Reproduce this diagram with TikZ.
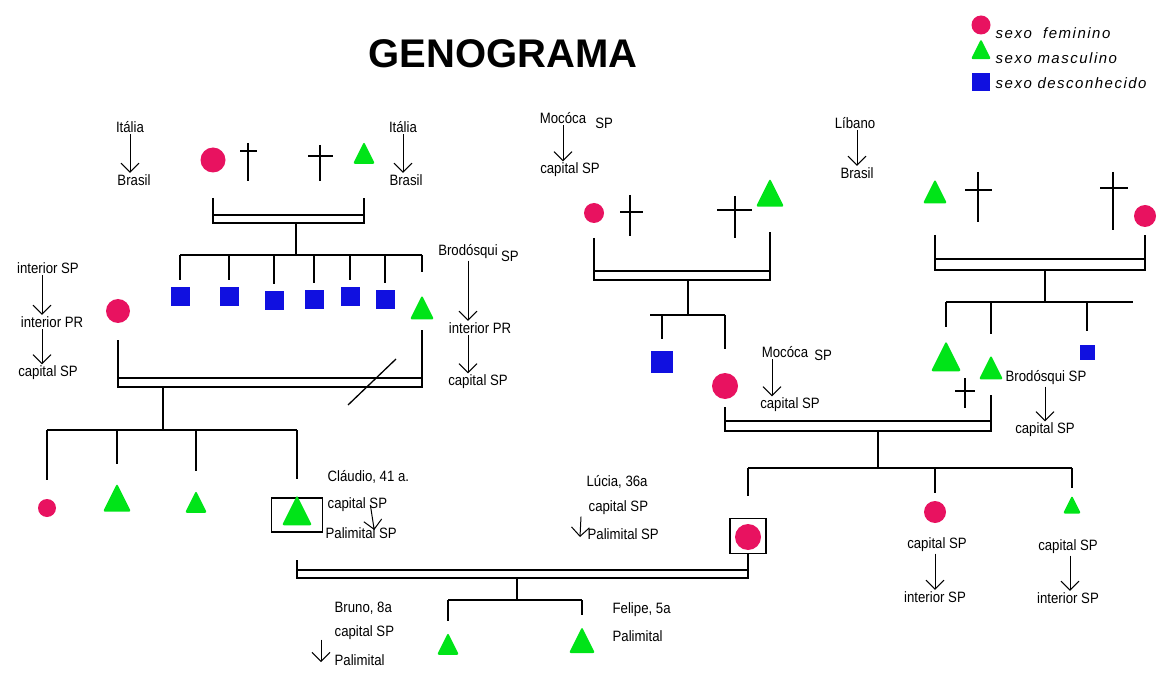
\documentclass[tikz,border=0pt]{standalone}
\usepackage{fontspec}
\setmainfont{Liberation Sans}
\usetikzlibrary{shapes.geometric,arrows.meta}
\definecolor{rosa}{RGB}{232,18,96}
\definecolor{verde}{RGB}{0,228,24}
\definecolor{azul}{RGB}{16,16,224}
\tikzset{
  fem/.style={circle,fill=rosa,inner sep=0pt,minimum size=#1},
  fem/.default=22pt,
  masc/.style={isosceles triangle,isosceles triangle stretches,shape border rotate=90,
    fill=verde,rounded corners=2pt,inner sep=0pt,minimum width=#1,minimum height=#1},
  masc/.default=22pt,
  desc/.style={rectangle,fill=azul,inner sep=0pt,minimum size=#1},
  desc/.default=19pt,
  lbl/.style={font=\fontsize{15}{17}\selectfont\addfontfeature{FakeStretch=0.88},inner sep=1pt},
  leg/.style={font=\fontsize{15}{17}\selectfont\itshape\addfontfeature{LetterSpace=10},inner sep=0pt,anchor=west},
  migra/.style={-{Straight Barb[length=9pt,width=18pt]},line width=1pt},
  caixa/.style={draw,inner sep=0pt}
}
\begin{document}
\begin{tikzpicture}[x=1pt,y=-1pt,line width=1.3pt]
\useasboundingbox (0,0) rectangle (1161,692);

\node[font=\fontsize{40}{40}\selectfont\bfseries] (titulo) at (503,54) {GENOGRAMA};

% legenda
\node[fem=19pt] (lfem) at (981,25) {};
\node[masc=20pt] (lmasc) at (981,53) {};
\node[desc=18pt] (ldesc) at (981,82) {};
\node[leg] (tfem) at (995,33) {sexo \ feminino};
\node[leg] (tmasc) at (995,58) {sexo masculino};
\node[leg] (tdesc) at (995,83) {sexo desconhecido};

% bisavos italianos
\node[lbl] (itaA) at (130,127) {Itália};
\node[lbl] (braA) at (134,180) {Brasil};
\draw[migra] (itaA.south) -- (itaA.south |- braA.north);
\node[fem=25pt] (bisavA) at (213,160) {};
\draw (248,143) -- (248,181) (240,151) -- (257,151);
\draw (320,145) -- (320,181) (308,156) -- (333,156);
\node[masc=22pt] (bisavB) at (364,157) {};
\node[lbl] (itaB) at (403,127) {Itália};
\node[lbl] (braB) at (406,180) {Brasil};
\draw[migra] (itaB.south) -- (itaB.south |- braB.north);
\draw (bisavA |- 0,198) -- (bisavA |- 0,223) -- (bisavB |- 0,223) -- (bisavB |- 0,198);
\draw (bisavA |- 0,215) -- (bisavB |- 0,215);
\draw (296,223) -- (296,255);

\node[desc] (filA1) at (180,297) {};
\node[desc] (filA2) at (229,297) {};
\node[desc] (filA3) at (274,301) {};
\node[desc] (filA4) at (314,300) {};
\node[desc] (filA5) at (350,297) {};
\node[desc] (filA6) at (385,300) {};
\node[masc=24pt] (filA7) at (422,312) {};
\draw (filA1 |- 0,255) -- (filA7 |- 0,255);
\foreach \f in {filA1,filA2,filA3,filA4,filA5,filA6}
  \draw (\f |- 0,255) -- ([yshift=7pt]\f.north);
\draw (filA7 |- 0,255) -- ([yshift=22pt]filA7.north);

% avos paternos
\node[lbl] (ispA) at (48,268) {interior SP};
\node[lbl] (iprA) at (52,322) {interior PR};
\node[lbl] (cspA) at (48,373) {capital SP};
\draw[migra] ([xshift=-6pt]ispA.south) -- ([xshift=-6pt]ispA.south |- iprA.north);
\draw[migra] ([xshift=-10pt]iprA.south) -- ([xshift=-10pt]iprA.south |- cspA.north);
\node[fem=24pt] (maeC) at (118,311) {};
\node[lbl] (brodA) at (468,252) {Brodósqui};
\node[lbl,anchor=west] (spA) at ([yshift=-4pt]brodA.east) {SP};
\node[lbl] (iprB) at (480,328) {interior PR};
\node[lbl] (cspB) at (478,382) {capital SP};
\draw[migra] (brodA.south) -- (brodA.south |- iprB.north);
\draw[migra] ([xshift=-12pt]iprB.south) -- ([xshift=-12pt]iprB.south |- cspB.north);
\draw (maeC |- 0,340) -- (maeC |- 0,387) -- (filA7 |- 0,387) -- (filA7 |- 0,330);
\draw (maeC |- 0,378) -- (filA7 |- 0,378);
\draw (348,405) -- (396,359);
\draw (163,387) -- (163,430);

\node[fem=18pt] (filC1) at (47,508) {};
\node[masc=28pt] (filC2) at (117,503) {};
\node[masc=22pt] (filC3) at (196,506) {};
\node[caixa,minimum width=51pt,minimum height=34pt] (claudio) at (297,515) {};
\node[masc=30pt] (claudioS) at (297,516) {};
\draw (filC1 |- 0,430) -- (claudio |- 0,430);
\foreach \f in {filC1,filC2,filC3,claudio}
  \draw (\f |- 0,430) -- ([yshift=18pt]\f.north);
\node[lbl,anchor=west] (cnome) at (326,477) {Cláudio, 41 a.};
\node[lbl,anchor=west] (ccap) at (326,505) {capital SP};
\node[lbl,anchor=west] (cpal) at (324,533) {Palimital SP};
\draw[migra] ([xshift=13pt]ccap.center) -- ([xshift=13pt,yshift=3pt]cpal.center);

% bisavos maternos (Mococa)
\node[lbl] (mocA) at (563,118) {Mocóca};
\node[lbl,anchor=west] (spB) at ([xshift=6pt,yshift=-5pt]mocA.east) {SP};
\node[lbl] (capA) at (570,170) {capital SP};
\draw[migra] (mocA.south) -- (mocA.south |- capA.north);
\node[fem=20pt] (bisavC) at (594,213) {};
\draw (630,195) -- (630,236) (620,212) -- (643,212);
\draw (735,196) -- (735,238) (717,210) -- (752,210);
\node[masc=28pt] (bisavD) at (770,198) {};
\draw (bisavC |- 0,238) -- (bisavC |- 0,280) -- (bisavD |- 0,280) -- (bisavD |- 0,232);
\draw (bisavC |- 0,271) -- (bisavD |- 0,271);
\draw (688,280) -- (688,315);
\node[desc=22pt] (tioL) at (662,362) {};
\node[fem=26pt] (maeL) at (725,386) {};
\coordinate (iniD) at (650,315);
\draw (iniD) -- (maeL |- 0,315);
\draw (tioL |- 0,315) -- ([yshift=11pt]tioL.north);
\draw (maeL |- 0,315) -- ([yshift=23pt]maeL.north);
\node[lbl] (mocB) at (785,352) {Mocóca};
\node[lbl,anchor=west] (spC) at ([xshift=3pt,yshift=-3pt]mocB.east) {SP};
\node[lbl] (capB) at (790,405) {capital SP};
\draw[migra] ([xshift=-13pt]mocB.south) -- ([xshift=-13pt]mocB.south |- capB.north);

% bisavos libaneses
\node[lbl] (libano) at (855,123) {Líbano};
\node[lbl] (braC) at (857,173) {Brasil};
\draw[migra] ([xshift=2pt]libano.south) -- ([xshift=2pt]libano.south |- braC.north);
\node[masc=24pt] (bisavE) at (935,196) {};
\draw (978,172) -- (978,222) (965,190) -- (992,190);
\draw (1113,172) -- (1113,230) (1100,188) -- (1128,188);
\node[fem=22pt] (bisavF) at (1145,216) {};
\draw (bisavE |- 0,235) -- (bisavE |- 0,270) -- (bisavF |- 0,270) -- (bisavF |- 0,235);
\draw (bisavE |- 0,259) -- (bisavF |- 0,259);
\draw (1045,270) -- (1045,302);
\node[masc=30pt] (irmE1) at (946,362) {};
\node[masc=24pt] (paiL) at (991,372) {};
\node[desc=15pt] (irmE3) at (1087,352) {};
\coordinate (fimE) at (1133,302);
\draw (irmE1 |- 0,302) -- (fimE);
\draw (irmE1 |- 0,302) -- ([yshift=13pt]irmE1.north);
\draw (paiL |- 0,302) -- ([yshift=20pt]paiL.north);
\draw (irmE3 |- 0,302) -- ([yshift=13pt]irmE3.north);
\draw (965,378) -- (965,408) (955,391) -- (975,391);
\node[lbl,anchor=west] (brodB) at (1004,378) {Brodósqui SP};
\node[lbl] (capC) at (1045,430) {capital SP};
\draw[migra] (capC.north |- brodB.south) -- (capC.north);

% avos maternos
\draw (maeL |- 0,407) -- (maeL |- 0,431) -- (paiL |- 0,431) -- (paiL |- 0,395);
\draw (maeL |- 0,421) -- (paiL |- 0,421);
\draw (878,431) -- (878,468);
\node[caixa,minimum width=36pt,minimum height=35pt] (lucia) at (748,536) {};
\node[fem=26pt] (luciaS) at (748,537) {};
\node[fem=22pt] (irmL1) at (935,512) {};
\node[masc=18pt] (irmL2) at (1072,508) {};
\draw (lucia |- 0,468) -- (irmL2 |- 0,468);
\draw (lucia |- 0,468) -- ([yshift=22pt]lucia.north);
\draw (irmL1 |- 0,468) -- ([yshift=7pt]irmL1.north);
\draw (irmL2 |- 0,468) -- ([yshift=6pt]irmL2.north);
\node[lbl] (cap1) at (937,545) {capital SP};
\node[lbl] (int1) at (935,597) {interior SP};
\draw[migra] ([xshift=-2pt]cap1.south) -- ([xshift=-2pt]cap1.south |- int1.north);
\node[lbl] (cap2) at (1068,547) {capital SP};
\node[lbl] (int2) at (1068,598) {interior SP};
\draw[migra] ([xshift=2pt]cap2.south) -- ([xshift=2pt]cap2.south |- int2.north);
\node[lbl,anchor=west] (lnome) at (585,482) {Lúcia, 36a};
\node[lbl,anchor=west] (lcap) at (587,508) {capital SP};
\node[lbl,anchor=west] (lpal) at (586,534) {Palimital SP};
\draw[migra] ([xshift=-6pt]lcap.south west) -- ([xshift=-6pt,yshift=-3pt]lpal.west);

% casal e filhos
\draw (claudio |- 0,560) -- (claudio |- 0,578) -- (lucia |- 0,578) -- (lucia.south);
\draw (claudio |- 0,570) -- (lucia |- 0,570);
\draw (517,578) -- (517,600);
\node[masc=22pt] (bruno) at (448,648) {};
\node[masc=26pt] (felipe) at (582,645) {};
\draw (bruno |- 0,600) -- (felipe |- 0,600);
\draw (bruno |- 0,600) -- ([yshift=10pt]bruno.north);
\draw (felipe |- 0,600) -- ([yshift=10pt]felipe.north);
\node[lbl,anchor=west] (bnome) at (333,608) {Bruno, 8a};
\node[lbl,anchor=west] (bcap) at (333,633) {capital SP};
\node[lbl,anchor=west] (bpal) at (333,660) {Palimital};
\draw[migra] ([xshift=-12pt,yshift=2pt]bcap.south west) -- ([xshift=-12pt,yshift=-2pt]bpal.west);
\node[lbl,anchor=west] (fnome) at (611,610) {Felipe, 5a};
\node[lbl,anchor=west] (fpal) at (611,636) {Palimital};
\end{tikzpicture}
\end{document}
